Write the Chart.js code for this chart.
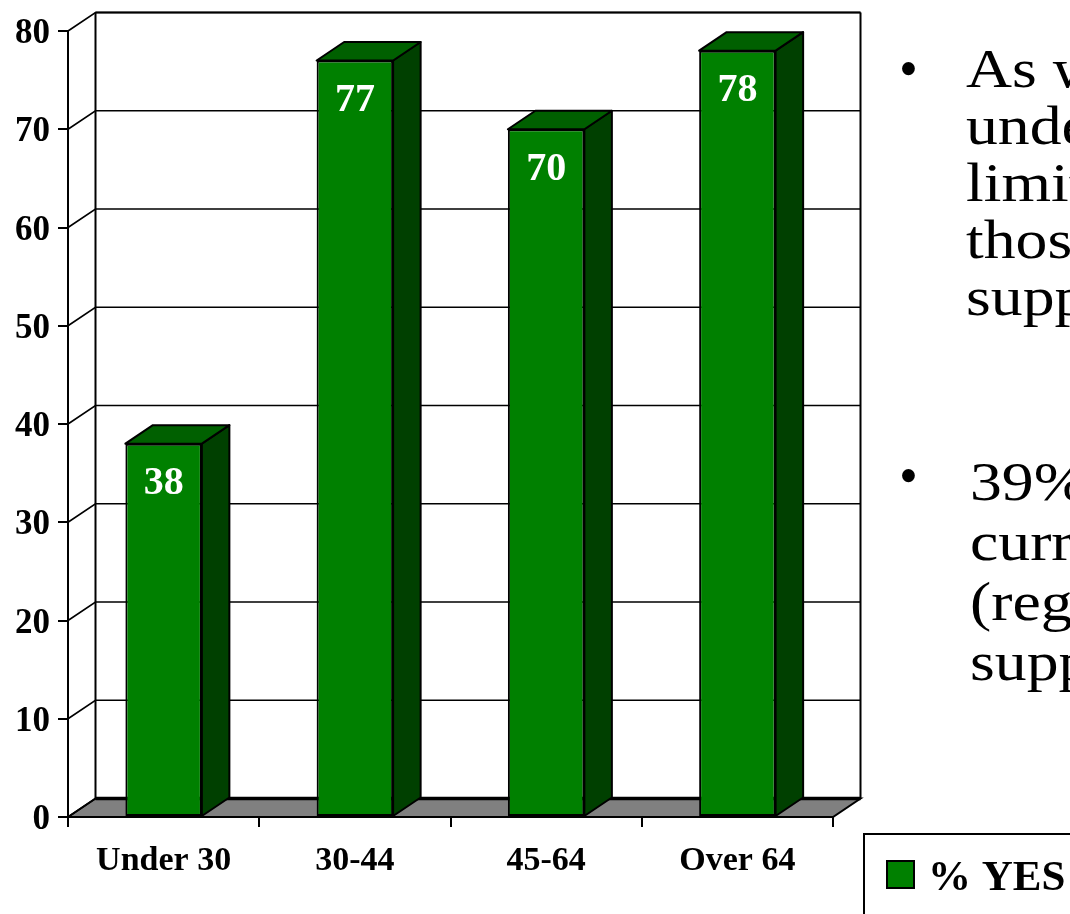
<!DOCTYPE html>
<html><head><meta charset="utf-8">
<script src="https://cdn.jsdelivr.net/npm/chart.js@4.4.1/dist/chart.umd.min.js"></script>
<style>
html,body{margin:0;padding:0;background:#fff;overflow:hidden;}
#wrap{position:relative;width:1070px;height:914px;overflow:hidden;background:#fff;}
canvas{position:absolute;left:0;top:0;}
.txt{position:absolute;font-family:"Liberation Serif","Times New Roman",serif;font-size:54px;line-height:57px;color:#000;white-space:nowrap;}
.wide{transform:scaleX(1.18);transform-origin:0 0;}
</style></head><body>
<div id="wrap">
<canvas id="c" width="1070" height="914"></canvas>
<div class="txt" id="b1" style="left:899px;top:41px">•</div>
<div class="txt wide" id="t1" style="left:966px;top:41px"></div>
<div class="txt" id="b2" style="left:899px;top:448px">•</div>
<div class="txt wide" id="t2" style="left:970px;top:452px;line-height:60px"></div>
</div>
<script>
const categories = ['Under 30', '30-44', '45-64', 'Over 64'];
const seriesName = '% YES';
const yesValues = [38, 77, 70, 78];
const yTicks = [0, 10, 20, 30, 40, 50, 60, 70, 80];
const bulletOne = ['As we', 'under', 'limit', 'those', 'suppo'];
const bulletTwo = ['39% o', 'curre', '(rega', 'suppo'];

document.getElementById('t1').innerHTML = bulletOne.join('<br>');
document.getElementById('t2').innerHTML = bulletTwo.join('<br>');

const SERIF = '"Liberation Serif","Times New Roman",serif';
const DX = 27.5, DY = -18.5;
const FRONT = '#008000', SIDE = '#004000', TOP = '#006000', FLOOR = '#808080';

const threeD = {
  id: 'threeD',
  beforeDatasetsDraw(chart) {
    const { ctx, chartArea: a, scales: { y } } = chart;
    const y0 = y.getPixelForValue(yTicks[0]);
    const yt = y.getPixelForValue(yTicks[yTicks.length - 1]);
    ctx.save();
    ctx.strokeStyle = '#000';
    ctx.fillStyle = FLOOR;
    ctx.beginPath();
    ctx.moveTo(a.left, y0); ctx.lineTo(a.left + DX, y0 + DY);
    ctx.lineTo(a.right + DX, y0 + DY); ctx.lineTo(a.right, y0); ctx.closePath();
    ctx.fill();
    ctx.lineWidth = 2; ctx.stroke();
    ctx.lineWidth = 1.6;
    yTicks.forEach(v => {
      const py = y.getPixelForValue(v);
      ctx.beginPath();
      ctx.moveTo(a.left, py); ctx.lineTo(a.left + DX, py + DY); ctx.lineTo(a.right + DX, py + DY);
      ctx.stroke();
    });
    ctx.lineWidth = 2;
    ctx.beginPath();
    ctx.moveTo(a.left + DX, yt + DY); ctx.lineTo(a.left + DX, y0 + DY);
    ctx.moveTo(a.right + DX, yt + DY); ctx.lineTo(a.right + DX, y0 + DY);
    ctx.stroke();
    ctx.beginPath(); ctx.moveTo(a.left + DX, yt + DY); ctx.lineTo(a.right + DX, yt + DY); ctx.stroke();
    ctx.lineWidth = 3.5;
    ctx.beginPath(); ctx.moveTo(a.left + DX, y0 + DY); ctx.lineTo(a.right + DX, y0 + DY); ctx.stroke();
    ctx.restore();
  },
  afterDatasetsDraw(chart) {
    const { ctx } = chart;
    const meta = chart.getDatasetMeta(0);
    const ds = chart.data.datasets[0];
    ctx.save();
    ctx.strokeStyle = '#000';
    ctx.lineWidth = 2;
    ctx.lineJoin = 'round';
    meta.data.forEach((bar, i) => {
      const { x, y, base, width } = bar.getProps(['x', 'y', 'base', 'width'], true);
      const l = x - width / 2, r = x + width / 2;
      ctx.fillStyle = SIDE;
      ctx.beginPath();
      ctx.moveTo(r, y); ctx.lineTo(r + DX, y + DY); ctx.lineTo(r + DX, base + DY); ctx.lineTo(r, base); ctx.closePath();
      ctx.fill(); ctx.stroke();
      ctx.fillStyle = TOP;
      ctx.beginPath();
      ctx.moveTo(l, y); ctx.lineTo(l + DX, y + DY); ctx.lineTo(r + DX, y + DY); ctx.lineTo(r, y); ctx.closePath();
      ctx.fill(); ctx.stroke();
      ctx.fillStyle = '#fff';
      ctx.font = 'bold 40px ' + SERIF;
      ctx.textAlign = 'center';
      ctx.textBaseline = 'middle';
      ctx.fillText(String(ds.data[i]), x, y + 40);
    });
    ctx.restore();
  },
  afterDraw(chart) {
    const { ctx } = chart;
    const ds = chart.data.datasets[0];
    ctx.save();
    ctx.strokeStyle = '#000';
    ctx.lineWidth = 2;
    ctx.fillStyle = '#fff';
    ctx.fillRect(864, 834, 220, 100);
    ctx.strokeRect(864, 834, 220, 100);
    ctx.fillStyle = ds.backgroundColor;
    ctx.fillRect(887, 861, 27, 27);
    ctx.strokeRect(887, 861, 27, 27);
    ctx.fillStyle = '#000';
    ctx.font = 'bold 43px ' + SERIF;
    ctx.textAlign = 'left';
    ctx.textBaseline = 'alphabetic';
    ctx.fillText(ds.label, 928, 890);
    ctx.restore();
  }
};

new Chart(document.getElementById('c'), {
  type: 'bar',
  data: {
    labels: categories,
    datasets: [{
      label: seriesName,
      data: yesValues,
      backgroundColor: FRONT,
      borderColor: '#000',
      borderWidth: 2,
      borderSkipped: false,
      barPercentage: 0.8,
      categoryPercentage: 0.5
    }]
  },
  options: {
    responsive: false,
    animation: false,
    events: [],
    layout: { padding: { top: 31, right: 237, bottom: 37, left: 0 } },
    plugins: { legend: { display: false }, tooltip: { enabled: false } },
    scales: {
      x: {
        offset: true,
        grid: { offset: true, drawOnChartArea: false, drawTicks: true, tickLength: 10, color: '#000', lineWidth: 2 },
        border: { display: true, color: '#000', width: 2 },
        ticks: { color: '#000', padding: 14, maxRotation: 0, font: { family: SERIF, size: 34, weight: 'bold' } },
        afterFit(s) { s.height = 60; }
      },
      y: {
        min: 0, max: 80,
        afterBuildTicks(s) { s.ticks = yTicks.map(v => ({ value: v })); },
        grid: { drawOnChartArea: false, drawTicks: true, tickLength: 10, color: '#000', lineWidth: 2 },
        border: { display: true, color: '#000', width: 2 },
        ticks: { color: '#000', padding: 8, labelOffset: 3, font: { family: SERIF, size: 35, weight: 'bold' } },
        afterFit(s) { s.width = 68; }
      }
    }
  },
  plugins: [threeD]
});
</script>
</body></html>
